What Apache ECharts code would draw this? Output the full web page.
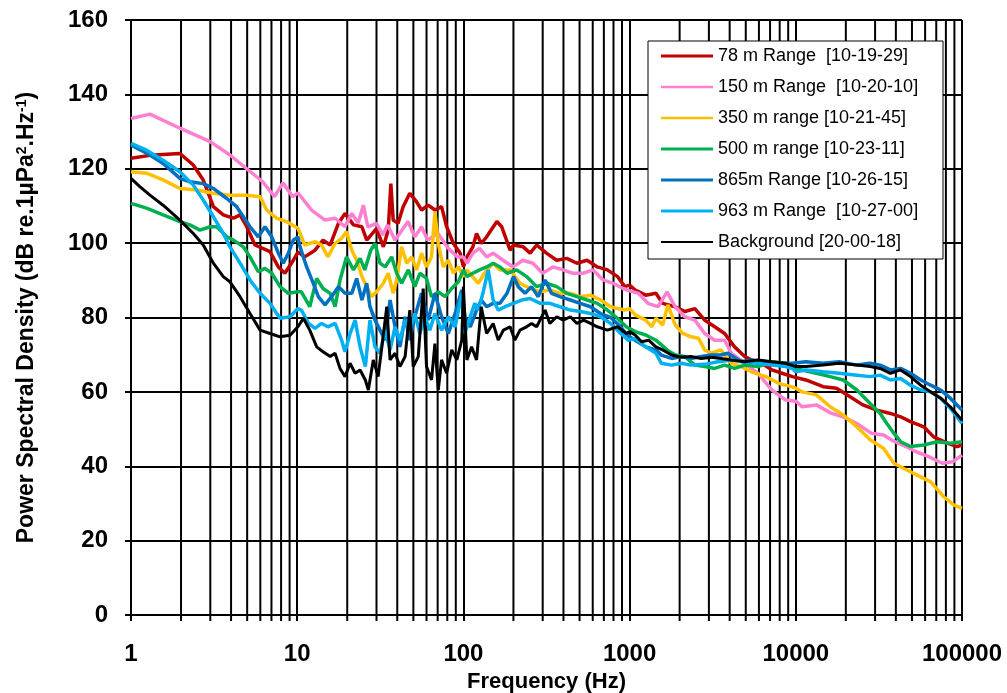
<!DOCTYPE html>
<html>
<head>
<meta charset="utf-8">
<script src="https://cdn.jsdelivr.net/npm/echarts@6/dist/echarts.min.js"></script>
<style>
  html, body { margin: 0; padding: 0; background: #ffffff; }
  #chart { width: 1007px; height: 693px; }
</style>
</head>
<body>
<div id="chart"></div>
<script>
// Power spectral density per recording: [frequency Hz, dB re 1 µPa²/Hz]
const range78 = [[1,122.8],[1.3,123.6],[1.97,124.1],[2.37,121],[2.72,117],[3.13,109.8],[3.59,107.6],[4.13,106.7],[4.53,107.6],[4.97,104.4],[5.57,99.5],[6.2,98.6],[6.86,97.7],[7.7,93.6],[8.43,91.9],[9.48,95.4],[10.1,97.6],[11.1,96.3],[12.8,98.1],[14.3,100.8],[15.8,99.5],[17.7,105.3],[19.4,108],[21.8,104.9],[24.5,104.4],[26.2,100.8],[30,103.9],[33,99],[35.3,103.5],[36.6,116],[37.8,106.2],[40.4,105.3],[43.4,109.8],[47.6,113.4],[52.3,111.1],[56,108.9],[61.4,110.2],[67.4,108.9],[73.9,109.8],[79.3,104.4],[87.1,99.9],[95.6,97.3],[100,93.6],[105,96.3],[114,99],[120,102.6],[128,99.9],[138,101.7],[159,105.8],[170,104.4],[191,98.1],[200,99.5],[229,99],[252,97.3],[276,99.5],[316,97.3],[364,95.4],[419,95.9],[482,94.6],[555,95.4],[639,93.6],[735,92.8],[846,91],[935,88.3],[1000,88.7],[1080,87.4],[1250,86],[1440,86.5],[1580,83.8],[1880,82.9],[2150,81.6],[2470,82.4],[2830,79.3],[3250,77.5],[3730,75.7],[4280,72.1],[4930,69.5],[5400,68.6],[6270,67.7],[7180,65.9],[8270,65],[9530,64.1],[11500,63.2],[14600,61.4],[17600,61],[21200,58.7],[25300,56.5],[30700,55.1],[37100,54.2],[42700,53.3],[49000,52],[58900,50.6],[67500,47.9],[81500,46.2],[93400,45.3],[100000,45.7]];

const range150 = [[1,133.5],[1.3,134.7],[1.97,130.9],[2.99,127.3],[3.94,123.7],[4.97,120],[6.2,116.5],[7.3,112.5],[8.2,116.2],[9.4,112.5],[10.1,113.5],[12.2,108.9],[14.7,106.2],[16.9,106.7],[19.4,104.4],[21.3,108],[23.3,105.4],[25,110.2],[26.6,104.4],[30,105.3],[32.7,102.2],[35,104.9],[38.8,100.8],[46.4,105.8],[51,101.7],[56,104.4],[61,100.8],[70,102.7],[81,98.6],[92,96.3],[100,96.3],[105,94.6],[114,97.3],[125,98.6],[138,96.3],[151,97.3],[173,95.4],[199,93.6],[228,95.4],[262,94.6],[300,91.9],[346,93.6],[397,92.8],[456,91.9],[525,91.9],[603,92.8],[693,90.1],[795,89.2],[913,87.8],[1000,87.2],[1130,86.5],[1290,83.8],[1480,82.9],[1680,86.9],[1880,82.9],[2150,80.2],[2470,79.3],[2830,75.7],[3250,73.9],[3730,73.9],[4090,70.4],[4930,67.7],[5930,65],[7180,60.5],[8690,57.8],[10000,57.5],[10900,56],[13300,56.5],[16400,54.2],[19200,53.3],[23300,51.5],[28400,48.9],[33700,48.4],[37500,47.1],[46000,45.3],[53000,43.9],[63000,42.6],[76000,40.8],[88000,41.2],[100000,43]];

const range350 = [[1,119.2],[1.24,118.8],[1.56,117],[1.97,114.7],[2.49,114.3],[3.13,113.4],[3.94,112.9],[4.97,112.9],[5.98,112.5],[6.55,108.9],[7.5,106.7],[8.6,105.8],[10.1,104],[11.1,99.5],[12.8,100.4],[14,99.5],[15.3,96.3],[16.9,99.9],[18.5,101.3],[19.8,103.1],[21.3,98.1],[22.8,95.4],[24.5,91],[26.2,88.3],[28,85.6],[30.7,87.4],[33,89.2],[35.3,91.9],[37.8,86.5],[39.7,90.1],[42.5,99],[45.6,94.6],[48.8,96.3],[52.3,92.8],[56,97.3],[60,93.6],[64.3,96.3],[67.4,108.4],[70.6,99.9],[75.6,93.6],[81.2,95.4],[87.1,91.9],[93.3,93.6],[100,91],[105,92.8],[123,89.2],[134,91.9],[151,94.6],[166,92.8],[191,92.8],[219,89.2],[252,87.8],[290,86.9],[331,87.4],[381,86.5],[440,86.5],[505,85.6],[582,86],[670,84.7],[770,82.9],[852,82.4],[935,82],[1000,82.4],[1080,80.7],[1250,79.3],[1360,77.5],[1440,79.8],[1580,78],[1700,83.4],[1880,78],[2090,75.7],[2340,74.8],[2600,74.4],[2830,71.3],[3100,70.4],[3540,71.3],[4090,67.7],[4700,66.8],[5400,65.4],[6600,64.1],[7880,62.3],[9390,61.4],[10000,61],[10900,60],[13300,59.2],[16100,56],[19300,53.8],[23300,50.6],[28000,47.1],[33800,44.8],[38900,40.8],[44700,39.4],[53700,37.6],[64800,35.8],[77700,31.8],[89000,29.6],[100000,28.7]];

const range500 = [[1,110.7],[1.24,109.4],[1.56,107.6],[1.97,105.8],[2.26,104.9],[2.6,103.5],[2.99,104.4],[3.28,104.4],[3.77,101.7],[4.13,100.8],[4.74,99],[5.2,96.3],[5.83,92.3],[6.4,93.2],[7.03,91.9],[7.88,88.3],[8.84,86.5],[10.1,86.9],[10.6,86.9],[11.9,82.9],[13.1,90.5],[14.3,87.8],[15.8,86.5],[16.9,82.9],[18.1,90.1],[19.8,96.3],[21.8,92.8],[23.9,95.9],[25.5,92.8],[27.7,98.1],[29.4,99.9],[31.5,94.6],[33.8,93.6],[37,96.3],[39.7,91.9],[42.5,89.2],[46.6,92.8],[51,88.3],[54.7,91.9],[60,90.5],[64.3,85.6],[70.6,86.9],[77.5,85.6],[85.1,87.8],[93.3,89.6],[100,92.8],[105,91],[114,91.9],[125,92.8],[138,93.6],[151,94.6],[166,93.6],[183,91.9],[209,92.8],[240,91],[276,88.3],[316,89.2],[364,88.3],[419,86.5],[482,85.6],[555,84.7],[639,83.8],[735,82],[846,79.8],[955,77.5],[1000,77],[1080,76.2],[1250,75.3],[1440,73.9],[1680,71.3],[1880,69.9],[2150,69.5],[2470,67.2],[2830,66.8],[3250,66.3],[3730,67.2],[4280,66.3],[4930,67.2],[5920,66.8],[7180,68.1],[8690,67.7],[10000,66.3],[10900,65.9],[13300,65],[16100,64.1],[19300,63.2],[23300,60.5],[28000,56.9],[32200,54.2],[35300,51.5],[38900,48.9],[42700,46.6],[49000,45.3],[58900,45.7],[70800,46.6],[85000,46.2],[100000,46.6]];

const range865 = [[1,126.4],[1.3,123.7],[1.56,121.4],[1.97,117.4],[2.26,116.5],[2.72,116],[3.13,114.7],[3.77,112],[4.32,109.8],[4.74,107.1],[5.2,104.4],[5.83,101.7],[6.4,104.4],[7.03,101.7],[7.7,97.3],[8.25,94.6],[8.84,97.3],[9.48,100.8],[10.1,101.7],[10.4,99],[11.4,93.6],[12.5,89.2],[13.4,85.6],[14.7,83.4],[16.1,85.6],[17.7,88.3],[19.4,86.5],[21.3,86.5],[22.8,90.5],[24.5,84.7],[26.2,89.2],[27.4,82.9],[29.4,79.3],[31.5,76.6],[33.8,73.9],[36.2,84.7],[38.8,77.5],[41.5,72.1],[44.6,80.2],[47.6,73.9],[51,80.2],[56,86.5],[61.4,79.3],[67.4,86.5],[73.9,80.2],[81.2,75.7],[89.2,81.1],[97.8,87.4],[102,80.2],[110,77.5],[120,82],[128,84.7],[138,82.9],[151,83.8],[166,83.8],[183,86.5],[200,91],[214,88.3],[235,86.5],[257,88.3],[282,85.6],[310,90.1],[339,86.5],[381,85.6],[440,84.7],[505,83.8],[582,82.9],[670,81],[770,80],[885,77.5],[955,75.5],[1000,74.8],[1080,73.9],[1250,72.1],[1440,71.3],[1550,69.9],[1790,69],[2050,69.5],[2340,69],[2700,69.5],[3100,69.9],[3540,69.9],[3900,70.4],[4700,68.1],[5400,68.6],[6600,68.1],[7880,67.7],[9530,67.7],[11500,68.1],[14600,67.7],[18300,68.1],[23300,67.2],[28000,67.7],[32200,67.2],[37100,65.9],[42700,66.3],[49000,65],[56400,63.2],[64800,61.8],[74400,60.5],[85000,58.3],[100000,55.1]];

const range963 = [[1,126.8],[1.24,125],[1.56,122.3],[1.97,119.2],[2.37,115.6],[2.72,111.6],[3.13,107.1],[3.59,102.6],[3.94,99],[4.53,94.6],[5.2,90.1],[5.98,86.5],[6.86,83.8],[7.88,79.8],[9.05,80.2],[10.1,82.4],[10.6,82],[11.7,78.4],[12.8,77.1],[14,78.4],[15.3,77.5],[16.9,78.4],[18.5,73.9],[19.4,70.8],[20.8,75.7],[22.3,79.3],[23.9,72.1],[25.7,66.8],[27.4,79.3],[29.4,72.1],[31.5,70.4],[33.8,76.6],[36.2,71.3],[38.8,77.5],[41.5,73.9],[44.6,79.3],[47.6,76.6],[51,81.1],[54.7,75.7],[58.6,80.2],[62.8,76.6],[67.4,81.1],[73.9,76.6],[81.2,80.2],[89.2,77.5],[97.8,86.5],[100,80.2],[102,75.7],[110,80.2],[117,83.8],[123,82],[131,86.5],[141,92.8],[151,84.7],[162,82],[178,82.9],[200,83.8],[224,84.7],[252,85.1],[290,83.8],[331,83.8],[381,82.9],[440,82],[505,81.6],[582,81.1],[670,80.2],[770,78.4],[885,75.7],[980,73.9],[1000,73.9],[1080,74.4],[1250,72.1],[1440,70.4],[1550,67.7],[1790,67.2],[2050,67.7],[2340,67.2],[2830,67.4],[3400,68.1],[4090,68.6],[4930,68.1],[5920,67.7],[7180,67.2],[8690,66.8],[9530,66.3],[10000,65.4],[11500,65.9],[14600,65.4],[18300,65],[23300,64.5],[28000,64.1],[32200,64.5],[37100,63.2],[42700,63.6],[49000,61.8],[56400,60.5],[64800,60],[74400,58.3],[85000,55.6],[100000,51.5]];

const background = [[1,117.4],[1.13,115.2],[1.3,112.9],[1.56,110.2],[1.97,106.2],[2.37,102.6],[2.72,99.5],[3.13,94.6],[3.59,91],[3.94,89.6],[4.53,85.6],[5.2,81.1],[5.98,76.6],[6.86,75.7],[7.88,74.8],[9.05,75.2],[10.1,77.5],[10.9,79.8],[11.9,76.6],[13.1,72.1],[14.3,70.8],[15.8,69.5],[16.9,70.4],[18.1,66.3],[19.4,64.1],[20.8,67.7],[22.3,65],[23.9,65.9],[25.7,63.2],[26.8,60.5],[28.7,68.6],[30.7,64.1],[32.5,73],[34.6,82.9],[36.2,68.6],[38.8,70.4],[41.5,66.8],[44.6,69.5],[47.6,82],[49.9,66.8],[53.5,69.5],[57.3,87.8],[60,66.8],[64.3,63.2],[67.4,73],[70.6,60.5],[73.9,68.6],[79.3,65],[85.1,71.3],[91.3,68.6],[97.8,73.9],[100,88.3],[105,68.6],[112,72.1],[120,68.6],[128,82.9],[138,75.7],[151,78.4],[162,73.9],[174,76.6],[191,77.5],[204,73.9],[219,76.6],[240,77.5],[257,78.4],[276,77.5],[310,82],[331,78.4],[364,80.2],[399,79.3],[440,80.2],[482,78.4],[529,79.3],[582,78.4],[639,77.5],[735,76.6],[846,77.5],[955,75.7],[1000,76.2],[1080,75.3],[1180,73.5],[1300,73.9],[1440,72.1],[1580,71.3],[1790,69.9],[2050,69.3],[2340,69.5],[2700,69],[3100,69.3],[3540,69],[4090,68.6],[4930,68.1],[5920,68.6],[7180,68.1],[8690,67.7],[10000,66.8],[11500,66.8],[14600,67.2],[18300,67.7],[23300,67.2],[28000,66.8],[32200,66.3],[37100,65],[42700,65.9],[49000,64.1],[56400,61.8],[64800,60],[74400,58.3],[85000,56],[100000,52.4]];

const seriesNames = [
  '78 m Range  [10-19-29]',
  '150 m Range  [10-20-10]',
  '350 m range [10-21-45]',
  '500 m range [10-23-11]',
  '865m Range [10-26-15]',
  '963 m Range  [10-27-00]',
  'Background [20-00-18]'
];
const seriesData = [range78, range150, range350, range500, range865, range963, background];
const seriesColors = ['#C00000', '#FF7FD0', '#FFC000', '#00B050', '#0070C0', '#00B0F0', '#000000'];
const seriesWidths = [3.5, 3.5, 3.5, 3.5, 3.5, 3.5, 3];
const legendStroke = [3, 2.5, 2.5, 3, 3, 3, 2];

// Axis ranges and labels
const yTicks = [0, 20, 40, 60, 80, 100, 120, 140, 160];
const xDecades = [1, 10, 100, 1000, 10000, 100000];

// Intermediate log gridlines (2..9 within each decade)
const minorGrid = [];
for (let d = 0; d < xDecades.length - 1; d++) {
  for (let m = 2; m <= 9; m++) minorGrid.push([xDecades[d] * m, 0]);
}

const FONT = '"Liberation Sans", Arial, Helvetica, sans-serif';

const chart = echarts.init(document.getElementById('chart'), null, { renderer: 'canvas' });

const lineSeries = seriesNames.map((name, i) => ({
  name: name,
  type: 'line',
  data: seriesData[i],
  symbol: 'none',
  showSymbol: false,
  smooth: false,
  z: 3,
  lineStyle: { color: seriesColors[i], width: seriesWidths[i] },
  itemStyle: { color: seriesColors[i] },
  emphasis: { disabled: true },
  animation: false
}));

// Legend swatches: a plain horizontal stroke per entry
const legendData = seriesNames.map((name, i) => ({
  name: name,
  icon: 'path://M0,0H52V' + legendStroke[i] + 'H0Z',
  itemStyle: { color: seriesColors[i] }
}));

chart.setOption({
  animation: false,
  backgroundColor: '#ffffff',
  grid: { left: 131, right: 45, top: 20, bottom: 78, containLabel: false, outerBoundsMode: 'none' },
  legend: {
    data: legendData,
    orient: 'vertical',
    left: 648,
    top: 41,
    padding: [5, 17, 7, 13],
    itemWidth: 52,
    itemHeight: 20,
    itemGap: 11,
    symbolKeepAspect: true,
    backgroundColor: '#ffffff',
    borderColor: '#000000',
    borderWidth: 1,
    borderRadius: 0,
    selectedMode: false,
    textStyle: { fontFamily: FONT, fontSize: 18, color: '#000000', width: 208, lineHeight: 20 }
  },
  xAxis: {
    type: 'log',
    logBase: 10,
    min: xDecades[0],
    max: xDecades[xDecades.length - 1],
    name: 'Frequency (Hz)',
    nameLocation: 'middle',
    nameGap: 56,
    nameTextStyle: { fontFamily: FONT, fontSize: 22, fontWeight: 'bold', color: '#000000' },
    axisLine: { show: true, onZero: false, lineStyle: { color: '#000000', width: 2 } },
    axisTick: { show: true, inside: false, length: 6, lineStyle: { color: '#000000', width: 2 } },
    axisLabel: {
      margin: 27,
      fontFamily: FONT, fontSize: 24, fontWeight: 'bold', color: '#000000',
      formatter: v => String(Math.round(v))
    },
    splitLine: { show: true, lineStyle: { color: '#000000', width: 2 } }
  },
  yAxis: {
    type: 'value',
    min: yTicks[0],
    max: yTicks[yTicks.length - 1],
    interval: 20,
    name: 'Power Spectral Density (dB re.1µPa{sup|2}.Hz{sup|-1})',
    nameLocation: 'middle',
    nameGap: 93,
    nameTextStyle: {
      fontFamily: FONT, fontSize: 23, fontWeight: 'bold', color: '#000000',
      rich: {
        sup: { fontFamily: FONT, fontSize: 14, fontWeight: 'bold', color: '#000000', verticalAlign: 'top', lineHeight: 23 }
      }
    },
    axisLine: { show: true, lineStyle: { color: '#000000', width: 2 } },
    axisTick: { show: true, inside: false, length: 6, lineStyle: { color: '#000000', width: 2 } },
    axisLabel: { margin: 23, fontFamily: FONT, fontSize: 24, fontWeight: 'bold', color: '#000000' },
    splitLine: { show: true, lineStyle: { color: '#000000', width: 2 } }
  },
  series: [
    {
      name: 'log-grid',
      type: 'custom',
      data: minorGrid,
      silent: true,
      z: 1,
      clip: false,
      encode: { x: 0, y: 1 },
      renderItem: function (params, api) {
        const f = api.value(0);
        const top = api.coord([f, yTicks[yTicks.length - 1]]);
        const bottom = api.coord([f, yTicks[0]]);
        return {
          type: 'line',
          shape: { x1: top[0], y1: top[1], x2: bottom[0], y2: bottom[1] + 6 },
          style: { stroke: '#000000', lineWidth: 2 }
        };
      }
    }
  ].concat(lineSeries)
});
</script>
</body>
</html>
